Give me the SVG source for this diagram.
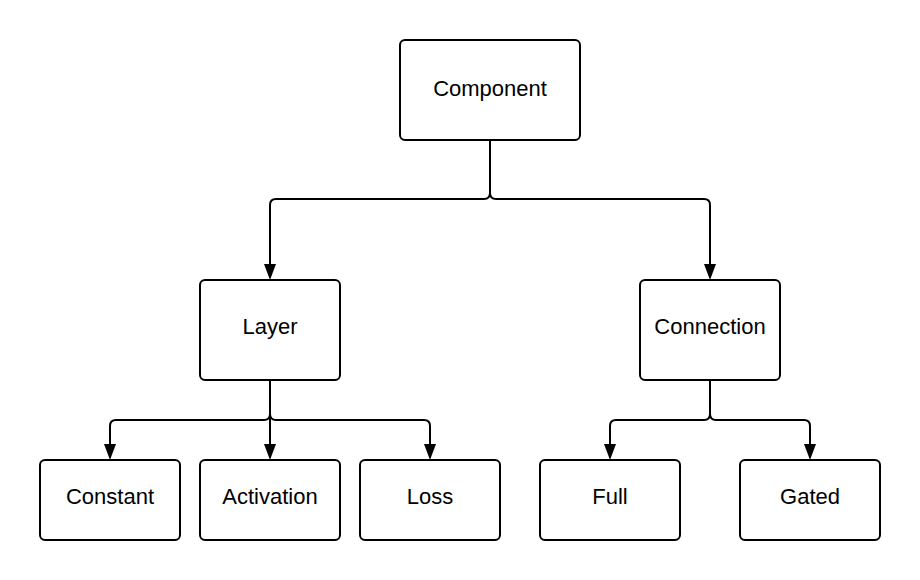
<svg xmlns="http://www.w3.org/2000/svg" width="920" height="580" viewBox="0 0 920 580">
<style>
.box{fill:#fff;stroke:#000;stroke-width:2}
.lbl{font-family:"Liberation Sans",Arial,sans-serif;font-size:22px;fill:#000;text-anchor:middle}
.con{fill:none;stroke:#000;stroke-width:2}
</style>
<defs>
<marker id="arr" markerUnits="userSpaceOnUse" markerWidth="16" markerHeight="12" refX="2" refY="6" orient="auto" viewBox="0 0 16 12">
<path d="M0,0 L16,6 L0,12 Z" fill="#000"/>
</marker>
</defs>
<rect width="920" height="580" fill="#fff"/>
<g id="connectors">
<path class="con" d="M490,140 L490,193 Q490,199 484,199 L276,199 Q270,199 270,205 L270,266" marker-end="url(#arr)"/>
<path class="con" d="M490,140 L490,193 Q490,199 496,199 L704,199 Q710,199 710,205 L710,266" marker-end="url(#arr)"/>
<path class="con" d="M270,380 L270,414 Q270,420 264,420 L116,420 Q110,420 110,426 L110,446" marker-end="url(#arr)"/>
<path class="con" d="M270,380 L270,446" marker-end="url(#arr)"/>
<path class="con" d="M270,380 L270,414 Q270,420 276,420 L424,420 Q430,420 430,426 L430,446" marker-end="url(#arr)"/>
<path class="con" d="M710,380 L710,414 Q710,420 704,420 L616,420 Q610,420 610,426 L610,446" marker-end="url(#arr)"/>
<path class="con" d="M710,380 L710,414 Q710,420 716,420 L804,420 Q810,420 810,426 L810,446" marker-end="url(#arr)"/>
</g>
<g id="component"><rect class="box" x="400" y="40" width="180" height="100" rx="5"/><text class="lbl" x="490" y="96">Component</text></g>
<g id="layer"><rect class="box" x="200" y="280" width="140" height="100" rx="5"/><text class="lbl" x="270" y="334">Layer</text></g>
<g id="connection"><rect class="box" x="640" y="280" width="140" height="100" rx="5"/><text class="lbl" x="710" y="334">Connection</text></g>
<g id="constant"><rect class="box" x="40" y="460" width="140" height="80" rx="5"/><text class="lbl" x="110" y="504">Constant</text></g>
<g id="activation"><rect class="box" x="200" y="460" width="140" height="80" rx="5"/><text class="lbl" x="270" y="504">Activation</text></g>
<g id="loss"><rect class="box" x="360" y="460" width="140" height="80" rx="5"/><text class="lbl" x="430" y="504">Loss</text></g>
<g id="full"><rect class="box" x="540" y="460" width="140" height="80" rx="5"/><text class="lbl" x="610" y="504">Full</text></g>
<g id="gated"><rect class="box" x="740" y="460" width="140" height="80" rx="5"/><text class="lbl" x="810" y="504">Gated</text></g>
</svg>
